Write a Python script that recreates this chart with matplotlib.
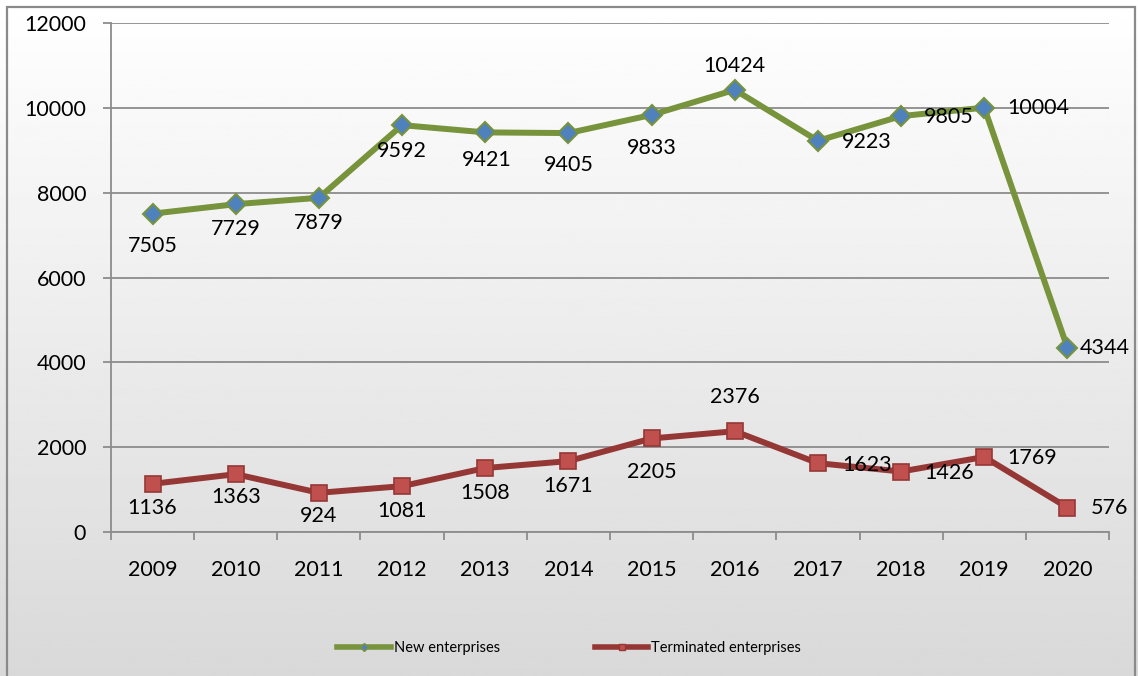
import matplotlib.pyplot as plt
import numpy as np
from matplotlib.lines import Line2D
from matplotlib.patches import Rectangle

plt.rcParams["font.family"] = ["Lato", "DejaVu Sans"]

# ---------------------------------------------------------------------------
# Data
# ---------------------------------------------------------------------------
years = ["2009", "2010", "2011", "2012", "2013", "2014",
         "2015", "2016", "2017", "2018", "2019", "2020"]
new_ent = [7505, 7729, 7879, 9592, 9421, 9405, 9833, 10424, 9223, 9805, 10004, 4344]
term_ent = [1136, 1363, 924, 1081, 1508, 1671, 2205, 2376, 1623, 1426, 1769, 576]

# label offsets in pixels (dx, dy), as placed in the original
new_off = [(0, -32), (0, -25), (0, -25), (0, -26), (2, -28), (0, -32),
           (0, -33), (0, 24), (49, -1), (48, -1), (54, 0), (37, 0)]
term_off = [(0, -24), (0, -23), (0, -23), (0, -25), (0, -25), (0, -25),
            (0, -34), (0, 34), (49, -2), (48, -1), (48, -1), (42, 0)]

GREEN = "#77933C"
BLUE = "#4F81BD"
RED = "#953735"
RED_FILL = "#C0504D"
GRID = "#8C8C8C"
FS = 15.5

W, H = 1138, 676
fig = plt.figure(figsize=(W / 100, H / 100), dpi=100)

# background gradient (white -> light grey)
bg = fig.add_axes([0, 0, 1, 1], zorder=-10)
grad = np.linspace(1.0, 0.85, 256).reshape(-1, 1)
bg.imshow(grad, aspect="auto", cmap="gray", vmin=0, vmax=1,
          extent=[0, 1, 0, 1], origin="upper")
bg.set_xlim(0, 1)
bg.set_ylim(0, 1)
bg.axis("off")
bg.add_patch(Rectangle((7 / W, -0.05), (1135 - 7) / W, (H - 7) / H + 0.05,
                       fill=False, edgecolor="#8A8A8A", linewidth=1.6,
                       transform=bg.transAxes))

ax = fig.add_axes([111 / W, 1 - 532 / H, (1109 - 111) / W, (532 - 23) / H])
ax.patch.set_alpha(0)

x = np.arange(len(years))
ax.plot(x, new_ent, color=GREEN, linewidth=4.3, marker="D", markersize=10,
        markerfacecolor=BLUE, markeredgecolor=GREEN, markeredgewidth=1.5,
        zorder=4)
ax.plot(x, term_ent, color=RED, linewidth=4.3, marker="s", markersize=11.5,
        markerfacecolor=RED_FILL, markeredgecolor=RED, markeredgewidth=1.2,
        zorder=4)

for xi, v, (dx, dy) in zip(x, new_ent, new_off):
    ax.annotate(str(v), (xi, v), xytext=(dx, dy), textcoords="offset pixels",
                ha="center", va="center", fontsize=FS, color="black", zorder=5)
for xi, v, (dx, dy) in zip(x, term_ent, term_off):
    ax.annotate(str(v), (xi, v), xytext=(dx, dy), textcoords="offset pixels",
                ha="center", va="center", fontsize=FS, color="black", zorder=5)

ax.set_xlim(-0.5, len(years) - 0.5)
ax.set_ylim(0, 12000)
ax.set_yticks(np.arange(0, 12001, 2000))
ax.grid(axis="y", color=GRID, linewidth=1.3)
ax.set_axisbelow(True)

ax.set_xticks(np.arange(-0.5, len(years), 1.0))
ax.set_xticklabels([])
ax.set_xticks(x, minor=True)
ax.set_xticklabels(years, minor=True)
ax.tick_params(axis="x", which="major", length=6, width=1.3, color=GRID,
               direction="out")
ax.tick_params(axis="x", which="minor", length=0, pad=20, labelsize=FS)
ax.tick_params(axis="y", length=6, width=1.3, color=GRID, pad=12,
               labelsize=FS)

for side in ("top", "right"):
    ax.spines[side].set_visible(False)
for side in ("left", "bottom"):
    ax.spines[side].set_color(GRID)
    ax.spines[side].set_linewidth(1.3)

handles = [
    Line2D([], [], color=GREEN, linewidth=4, marker="D", markersize=4,
           markerfacecolor=BLUE, markeredgecolor=GREEN),
    Line2D([], [], color=RED, linewidth=4, marker="s", markersize=5,
           markerfacecolor=RED_FILL, markeredgecolor=RED),
]
fig.legend(handles, ["New enterprises", "Terminated enterprises"],
           loc="center", bbox_to_anchor=(0.5, 1 - 648 / H), ncol=2,
           frameon=False, fontsize=10.5, handlelength=3.7, handletextpad=0.2,
           columnspacing=6.5)

fig.savefig("out.png", dpi=100)
